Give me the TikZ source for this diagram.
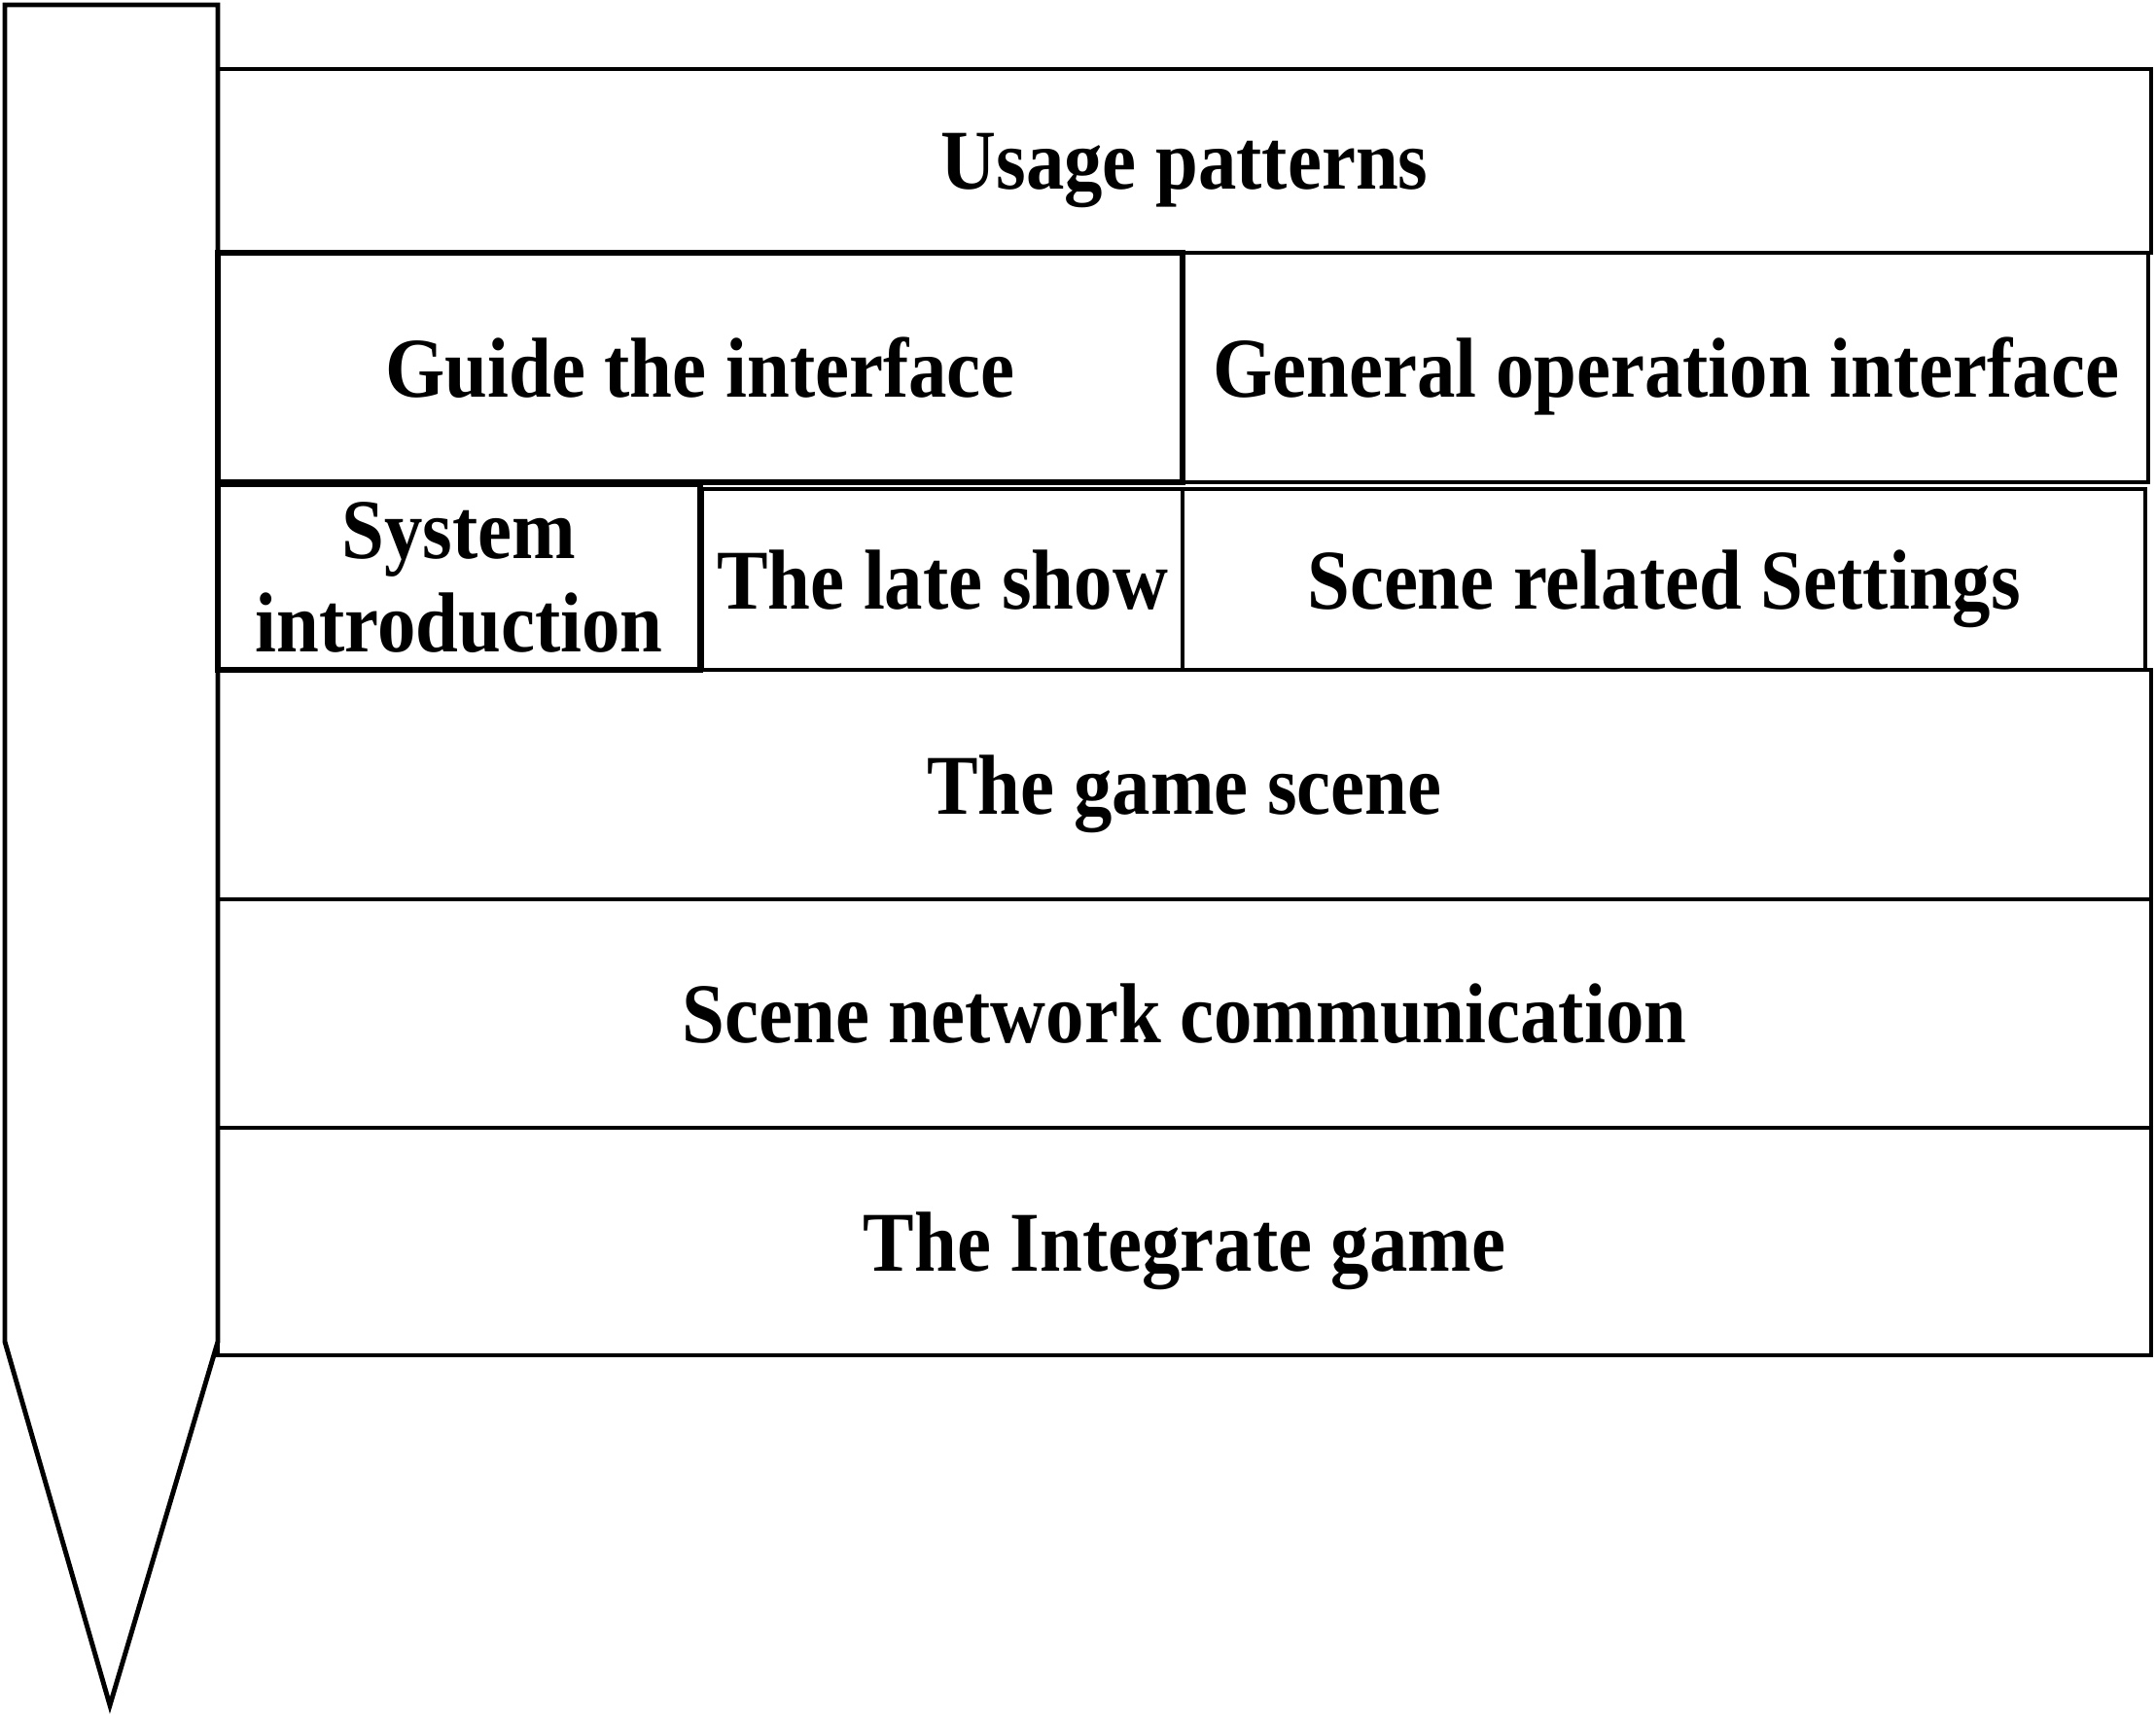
\documentclass[tikz,border=0pt]{standalone}
\usepackage{fontspec}
\setmainfont{Liberation Serif}[FakeStretch=0.9]

\tikzset{cell/.style={draw, line width=1.3pt, inner sep=0pt, outer sep=0pt, anchor=north west, text depth=0pt, align=center, font=\bfseries\fontsize{24.9}{27.3}\selectfont}}

\begin{document}
\begin{tikzpicture}
\def\xl{2.24cm}
\def\xm{7.20cm}
\def\xn{12.16cm}
\useasboundingbox (0,0) rectangle (22.17,-17.63);

\draw[line width=1.4pt] (0.05,-0.05) -- (\xl,-0.05) -- (\xl,-13.80) -- (1.13,-17.54) -- (0.05,-13.80) -- cycle;

\node[cell, minimum width=19.88cm, minimum height=1.89cm] (usage) at (\xl,-0.71) {Usage patterns};
\node[cell, line width=1.6pt, minimum width=9.92cm, minimum height=2.36cm] (guide) at (\xl,-2.60) {Guide the interface};
\node[cell, minimum width=9.92cm, minimum height=2.36cm] (general) at (12.17,-2.60) {General operation interface};

\node[cell, line width=1.6pt, minimum width=4.96cm, minimum height=1.91cm] (intro) at (\xl,-4.98) {System\\introduction};
\node[cell, minimum width=4.94cm, minimum height=1.86cm] (late) at (7.22,-5.03) {The late show};
\node[cell, minimum width=9.90cm, minimum height=1.86cm] (settings) at (\xn,-5.03) {Scene related Settings};

\node[cell, minimum width=19.88cm, minimum height=2.36cm] (scene) at (\xl,-6.89) {The game scene};
\node[cell, minimum width=19.88cm, minimum height=2.35cm] (network) at (\xl,-9.25) {Scene network communication};
\node[cell, minimum width=19.88cm, minimum height=2.34cm] (integrate) at (\xl,-11.60) {The Integrate game};
\end{tikzpicture}
\end{document}
